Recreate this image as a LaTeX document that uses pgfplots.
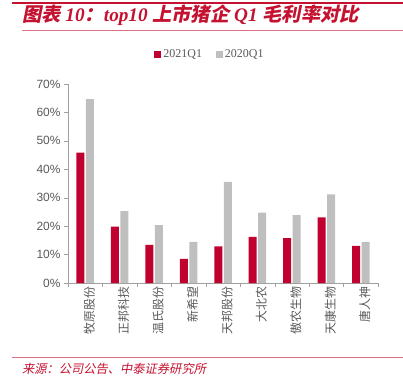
\documentclass[border=0pt]{standalone}
\usepackage{pgfplots}
\pgfplotsset{compat=1.18}
\usepackage{pgfplotstable}
\usepackage{fontspec}
\setmainfont{Liberation Serif}
\newfontfamily\cjk{Noto Sans CJK SC}
\newfontfamily\cjktitle[FakeSlant=0.2]{Noto Sans CJK SC}
\newfontfamily\arial{Liberation Sans}
\definecolor{barred}{HTML}{C0002F}
\definecolor{bargray}{HTML}{BFBFBF}
\definecolor{titlered}{HTML}{C41230}
\definecolor{axgray}{HTML}{A0A0A0}
\definecolor{txtgray}{HTML}{595959}
\pgfplotstableread{
x a b
0 45.9 64.7
1 19.8 25.3
2 13.4 20.4
3 8.5 14.5
4 12.9 35.6
5 16.2 24.8
6 15.8 23.9
7 23.1 31.2
8 13.1 14.4
}\data
\begin{document}
\begin{tikzpicture}
\path[use as bounding box] (0bp,0bp) rectangle (403bp,-386bp);
\draw[titlered, line width=2bp] (12bp,-3bp) -- (403bp,-3bp);
\node[anchor=west, text=titlered, inner sep=0pt] at (22bp,-15.5bp)
  {\fontsize{19.3}{19.3}\selectfont{\cjktitle\bfseries 图表} \textbf{\textit{10}}{\cjktitle\bfseries ：}\textbf{\textit{top10}} {\cjktitle\bfseries 上市猪企} \textbf{\textit{Q1}} {\cjktitle\bfseries 毛利率对比}};
\draw[titlered!60, line width=0.6bp] (22bp,-30bp) -- (403bp,-30bp);
\draw[titlered!60, line width=0.6bp] (12bp,-357bp) -- (403bp,-357bp);
\node[anchor=west, text=titlered, inner sep=0pt] at (22bp,-369bp)
  {\cjktitle\fontsize{12.3}{12.3}\selectfont 来源：公司公告、中泰证券研究所};
\begin{axis}[
  at={(68bp,-283bp)}, anchor=south west,
  scale only axis, width=310bp, height=199bp,
  xmin=-0.5, xmax=8.5, ymin=0, ymax=70,
  axis lines*=left,
  axis line style={draw=axgray},
  tick style={draw=axgray},
  tick align=outside,
  major tick length=4bp,
  xtick={-0.5,0.5,...,8.5},
  xticklabels={},
  extra x ticks={0,1,2,3,4,5,6,7,8},
  extra x tick labels={牧原股份,正邦科技,温氏股份,新希望,天邦股份,大北农,傲农生物,天康生物,唐人神},
  extra x tick style={major tick length=0pt, xticklabel style={rotate=90, anchor=east, font=\cjk\fontsize{12}{12}\selectfont, text=txtgray, yshift=-4bp}},
  ytick={0,10,...,70},
  yticklabel={\pgfmathprintnumber{\tick}\%},
  /pgf/number format/assume math mode=true,
  yticklabel style={font=\arial\fontsize{12}{12}\selectfont, text=txtgray},
  ybar=1.5bp, bar width=8bp,
  legend style={at={(0.458,1.15)}, anchor=center, draw=none, fill=none, legend columns=2,
    font=\fontsize{12}{12}\selectfont, text=txtgray,
    /tikz/every even column/.append style={column sep=12bp}},
  legend image code/.code={\fill[#1] (0bp,-3.5bp) rectangle (7bp,3.5bp);},
]
\addplot[fill=barred, draw=none] table[x=x,y=a] {\data};
\addplot[fill=bargray, draw=none] table[x=x,y=b] {\data};
\legend{2021Q1,2020Q1}
\end{axis}
\end{tikzpicture}
\end{document}
